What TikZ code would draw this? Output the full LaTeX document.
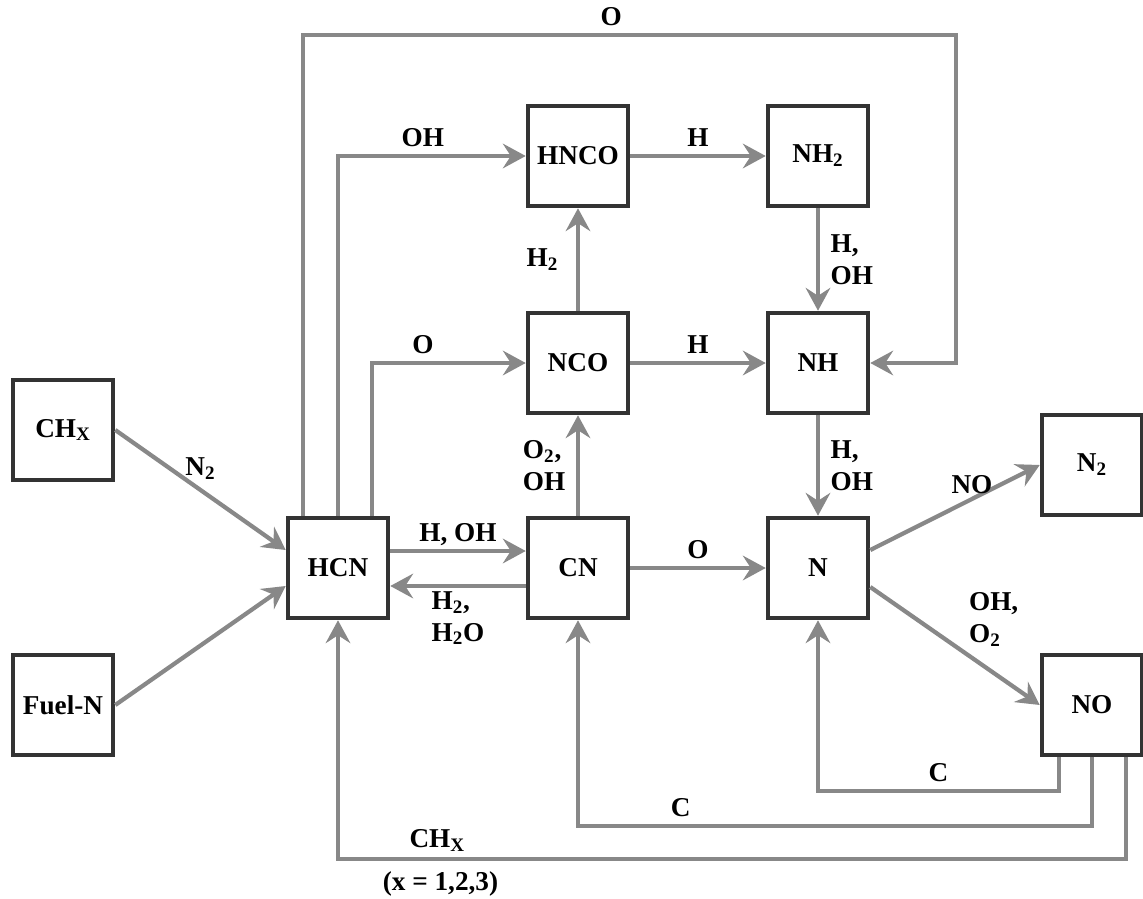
\documentclass[tikz,border=0pt]{standalone}
\usepackage{fontspec}
\setmainfont{Liberation Serif}
\usetikzlibrary{arrows.meta,positioning,calc}
\definecolor{boxline}{HTML}{333333}
\definecolor{flow}{HTML}{888888}
\tikzset{
  spec/.style = {rectangle, draw=boxline, fill=white, line width=2.6pt, inner sep=0pt,
                 minimum width=2.0cm, minimum height=2.0cm, font=\fontsize{15.5}{17}\selectfont\bfseries},
  rx/.style   = {-{Stealth[length=13pt,width=14pt,inset=4.5pt]}, line width=2.4pt, draw=flow},
  lbl/.style  = {font=\fontsize{15.5}{18}\selectfont\bfseries, align=left, inner sep=2pt},
}
\begin{document}
\begin{tikzpicture}[x=0.02cm, y=-0.02cm]
\useasboundingbox (0,0) rectangle (1143,899);
% sources
\node[spec] (chx) at (63,430) {CH\textsubscript{X}};
\node[spec] (fuel) at (63,705) {Fuel-N};
% species
\node[spec] (hcn) at (338,568) {HCN};
\node[spec] (cn) at (578,568) {CN};
\node[spec] (n) at (818,568) {N};
\node[spec] (nco) at (578,363) {NCO};
\node[spec] (nh) at (818,363) {NH};
\node[spec] (hnco) at (578,156) {HNCO};
\node[spec] (nh2) at (818,156) {NH\textsubscript{2}};
% products
\node[spec] (n2) at (1092,465) {N\textsubscript{2}};
\node[spec] (no) at (1092,705) {NO};
% corners
\coordinate (otop) at (956,35);
\coordinate (cN) at (818,791);
\coordinate (cCN) at (578,826);
\coordinate (cHCN) at (338,859);
% edges
\draw[rx] (chx.east) -- node[lbl,above=3pt]{N\textsubscript{2}} ($(hcn.west)+(0,-18)$);
\draw[rx] (fuel.east) -- ($(hcn.west)+(0,18)$);
\draw[rx] ($(hcn.east)+(0,-17)$) -- node[lbl,above]{H, OH} ($(cn.west)+(0,-17)$);
\draw[rx] ($(cn.west)+(0,18)$) -- node[lbl,below]{H\textsubscript{2},\\H\textsubscript{2}O} ($(hcn.east)+(0,18)$);
\draw[rx] ($(hcn.north)+(-35,0)$) |- node[lbl,above=2pt,pos=0.736]{O} (otop) |- (nh.east);
\draw[rx] (hcn.north) |- node[lbl,above=2pt,pos=0.726]{OH} (hnco.west);
\draw[rx] ($(hcn.north)+(34,0)$) |- node[lbl,above=2pt,pos=0.666]{O} (nco.west);
\draw[rx] (hnco) -- node[lbl,above=2pt]{H} (nh2);
\draw[rx] (nco) -- node[lbl,above=2pt]{H} (nh);
\draw[rx] (nco) -- node[lbl,left=8pt]{H\textsubscript{2}} (hnco);
\draw[rx] (cn) -- node[lbl,left=4pt]{O\textsubscript{2},\\OH} (nco);
\draw[rx] (nh2) -- node[lbl,right=4pt]{H,\\OH} (nh);
\draw[rx] (nh) -- node[lbl,right=4pt]{H,\\OH} (n);
\draw[rx] (cn) -- node[lbl,above=2pt]{O} (n);
\draw[rx] ($(n.east)+(0,-18)$) -- node[lbl,above,pos=0.6]{NO} (n2.west);
\draw[rx] ($(n.east)+(0,19)$) -- node[lbl,above right,pos=0.55]{OH,\\O\textsubscript{2}} (no.west);
% feedback from NO
\draw[rx] ($(no.south)+(-33,0)$) |- node[lbl,above=2pt,pos=0.75]{C} (cN) -- (n.south);
\draw[rx] (no.south) |- node[lbl,above=2pt,pos=0.9]{C} (cCN) -- (cn.south);
\draw[rx] ($(no.south)+(34,0)$) |- node[lbl,above=1pt,pos=0.937]{CH\textsubscript{X}}
  node[lbl,below=4pt,pos=0.935]{(x = 1,2,3)} (cHCN) -- (hcn.south);
\end{tikzpicture}
\end{document}
